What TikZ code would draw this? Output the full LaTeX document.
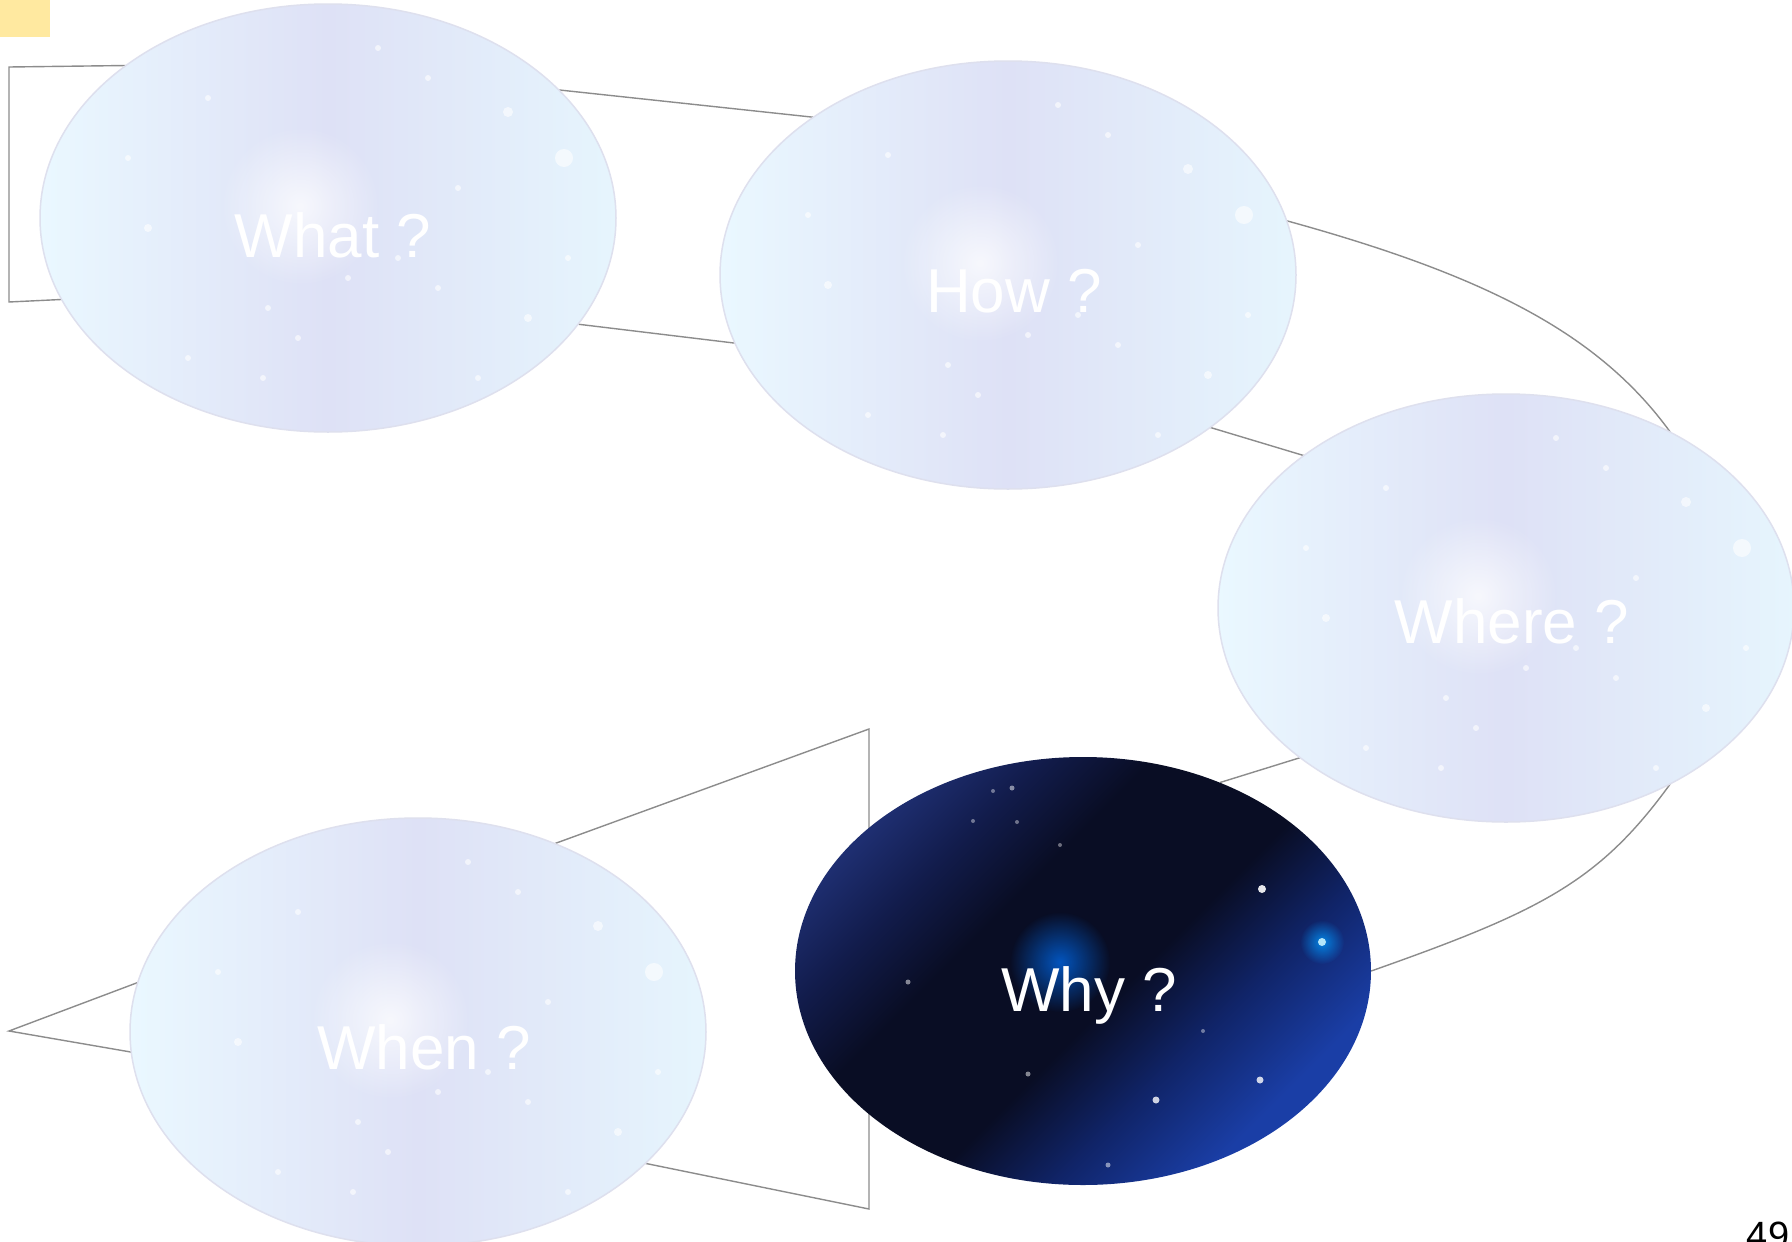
\documentclass[tikz,border=0pt]{standalone}
\usepackage{fontspec}
\setmainfont{Liberation Sans}
\usetikzlibrary{shapes.geometric,fadings}
\definecolor{conncol}{RGB}{140,140,140}
\definecolor{ltbase}{RGB}{226,229,247}
\definecolor{ltcyan}{RGB}{234,248,255}
\definecolor{ltcyanr}{RGB}{230,245,253}
\definecolor{ltlav}{RGB}{222,225,246}
\definecolor{ltedge}{RGB}{222,224,238}
\definecolor{dkblue}{RGB}{26,62,166}
\definecolor{dkblue2}{RGB}{16,36,104}
\definecolor{dkmid}{RGB}{9,13,36}
\definecolor{dknavy2}{RGB}{18,28,76}
\definecolor{dknavy}{RGB}{30,46,112}
\definecolor{yellowtab}{RGB}{255,233,160}
\tikzfading[name=softglow, inner color=transparent!0, outer color=transparent!100]
\pgfdeclareverticalshading{whyshade}{100bp}{color(0bp)=(dkblue); color(27bp)=(dkblue); color(37bp)=(dkblue2); color(46bp)=(dkmid); color(60bp)=(dkmid); color(68bp)=(dknavy2); color(75bp)=(dknavy); color(100bp)=(dknavy)}
\tikzset{
  conn/.style={draw=conncol, line width=1.4pt, line join=miter},
  ballshape/.style={ellipse, minimum width=576pt, minimum height=428pt, inner sep=0pt},
  lightball/.style={ballshape,
    draw=ltedge, line width=1.5pt, fill=ltbase,
    path picture={
      \coordinate (pc) at (path picture bounding box.center);
      \shade[left color=ltcyan, right color=ltcyanr, middle color=ltlav]
        ([shift={(-290,-216)}]pc) rectangle ([shift={(290,216)}]pc);
      \fill[white, opacity=0.75, path fading=softglow]
        ([shift={(-28,-12)}]pc) circle (80pt);
      \foreach \dx/\dy/\rr in {180/-106/5,236/-60/9,-180/10/4,70/40/3,-60/90/3,-65/160/3,
          130/-30/3,100/-140/3,50/-170/3,-30/120/3,200/100/4,150/160/3,-120/-120/3,
          20/60/3,240/40/3,-200/-60/3,110/70/3,-140/140/3}
        \fill[white, opacity=0.6] ([shift={(\dx,\dy)}]pc) circle (\rr pt);
    }},
  darkball/.style={ballshape,
    shading=whyshade, shading angle=45,
    path picture={
      \coordinate (pc) at (path picture bounding box.center);
      \fill[blue!55!cyan, opacity=0.7, path fading=softglow]
        ([shift={(-23,-9)}]pc) circle (50pt);
      \fill[blue!40!cyan, opacity=0.8, path fading=softglow]
        ([shift={(239,-29)}]pc) circle (22pt);
      \fill[white!70!cyan] ([shift={(239,-29)}]pc) circle (4pt);
      \foreach \dx/\dy/\rr/\o in {179/-82/4/0.9,177/109/3.5/0.8,73/129/3.5/0.8,-175/11/2.5/0.5,
          -55/103/2.5/0.5,-71/-183/2.5/0.5,-66/-149/2/0.4,25/194/2.5/0.5,-23/-126/2/0.4,
          -110/-150/2/0.4,-90/-180/2/0.4,120/60/2/0.4}
        \fill[white, opacity=\o] ([shift={(\dx,\dy)}]pc) circle (\rr pt);
    }},
  balltext/.style={anchor=base, text=white, font=\fontsize{62}{74}\selectfont, inner sep=0pt},
}
\begin{document}
\begin{tikzpicture}[x=1pt, y=-1pt]
\useasboundingbox (0,0) rectangle (1792,1242);
\clip (0,0) rectangle (1792,1242);
\fill[white] (0,0) rectangle (1792,1242);
% named ellipse outlines (invisible), used for connector end points
\node[ballshape] (what) at (328,218) {};
\node[ballshape] (how) at (1008,275) {};
\node[ballshape] (where) at (1506,608) {};
\node[ballshape] (why) at (1083,971) {};
\node[ballshape] (when) at (418,1032) {};
\coordinate (bracketTop) at (9,67);
\coordinate (bracketBot) at (9,302);
\coordinate (whenTop) at (869,729);
\coordinate (whenBot) at (869,1209);
\coordinate (whenLeft) at (9,1031);
% connectors (behind the balls)
\draw[conn] (what.143.8) -- (bracketTop) -- (bracketBot) -- (what.197.3);
\draw[conn] (what.29.4) -- (how.141.6);
\draw[conn] (what.-23.3) -- (how.-166.4);
\draw[conn] (how.11.9) .. controls (1487,276) and (1599,334) .. (where.47.2);
\draw[conn] (how.-37.4) -- (where.143);
\draw[conn] (where.216.6) -- (why.54.3);
\draw[conn] (where.-47.2) .. controls (1599,882) and (1541,911) .. (why.east);
\draw[conn] (when.54.9) -- (whenTop) -- (whenBot) -- (when.-30.2);
\draw[conn] (when.170.6) -- (whenLeft) -- (when.184.4);
% balls
\node[lightball] (whatball) at (what.center) {};
\node[lightball] (howball) at (how.center) {};
\node[lightball] (whereball) at (where.center) {};
\node[darkball] (whyball) at (why.center) {};
\node[lightball] (whenball) at (when.center) {};
% labels
\node[balltext] (whatlbl) at (333,257) {What ?};
\node[balltext] (howlbl) at (1014,312) {How ?};
\node[balltext] (wherelbl) at (1512,643) {Where ?};
\node[balltext] (whylbl) at (1089,1011) {Why ?};
\node[balltext] (whenlbl) at (424,1069) {When ?};
% yellow tab and page number
\fill[yellowtab] (0,0) rectangle (50,37);
\node[anchor=base, inner sep=0pt, font=\fontsize{38}{44}\selectfont, text=black] (pagenum) at (1768,1248) {49};
\end{tikzpicture}
\end{document}
